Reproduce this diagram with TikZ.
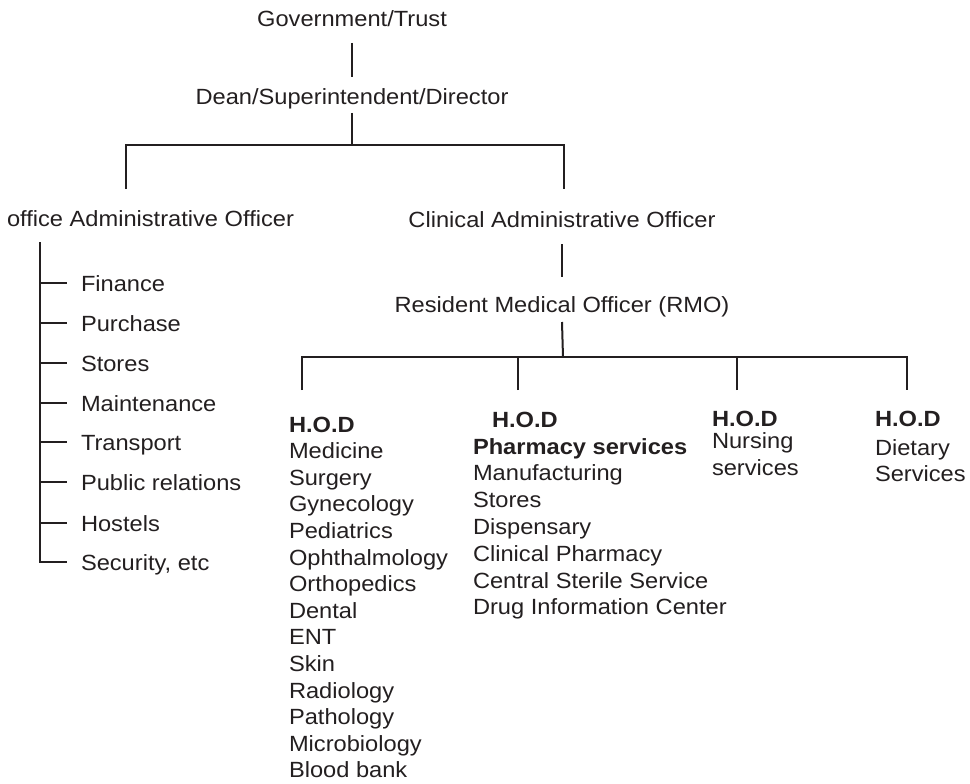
\documentclass[tikz,border=0pt]{standalone}
\usepackage{fontspec}
\setmainfont[FakeStretch=1.075]{Liberation Sans}
\definecolor{ink}{RGB}{35,31,32}
\begin{document}
\begin{tikzpicture}[x=1pt,y=-1pt,
  lab/.style={inner sep=0pt,outer sep=0pt,text=ink,font=\fontsize{22}{26}\selectfont},
  blab/.style={lab,font=\fontsize{22}{26}\selectfont\bfseries},
  ln/.style={draw=ink,line width=2pt,line join=miter}]
\useasboundingbox (0,0) rectangle (970,784);

% top levels
\node[lab,anchor=base] (gov) at (352,27) {Government/Trust};
\node[lab,anchor=base] (dean) at (352,105) {Dean/Superintendent/Director};
\draw[ln] ([yshift=-16pt]gov.base) -- ([yshift=28pt]dean.base);

\coordinate (bar) at (352,145);
\coordinate (offtop) at (126,189);
\coordinate (clitop) at (564,189);
\draw[ln] ([yshift=-8pt]dean.base) -- (bar);
\draw[ln] (offtop) |- (bar) -| (clitop);

\node[lab,anchor=base west] (office) at (7,226) {office Administrative Officer};
\node[lab,anchor=base] (clinical) at (562,227) {Clinical Administrative Officer};
\node[lab,anchor=base] (rmo) at (562,312) {Resident Medical Officer (RMO)};
\draw[ln] ([yshift=-17pt]clinical.base) -- ([yshift=35pt]rmo.base);

% left list
\coordinate (ltop) at (40,242);
\foreach \i/\y/\t in {1/283/Finance,2/323/Purchase,3/363/Stores,4/403/Maintenance,5/442/Transport,6/482/Public relations,7/523/Hostels,8/562/{Security, etc}}{
  \node[lab,anchor=base west] (l\i) at (81,\y+8) {\t};
  \coordinate (tk\i) at (67,\y);
  \draw[ln] (ltop |- tk\i) -- (tk\i);
}
\draw[ln] (ltop) |- (tk8);

% RMO branches
\coordinate (bar2) at (563,357);
\coordinate (t1) at (302,390);
\coordinate (t2) at (518,390);
\coordinate (t3) at (737,390);
\coordinate (t4) at (907,390);
\draw[ln] ([yshift=-10pt]rmo.base) -- (bar2);
\draw[ln] (t1) |- (bar2) -| (t4);
\draw[ln] (t2) -- (t2 |- bar2);
\draw[ln] (t3) -- (t3 |- bar2);

% column 1
\node[blab,anchor=base west] (h1) at (289,432) {H.O.D};
\foreach \t [count=\k] in {Medicine,Surgery,Gynecology,Pediatrics,Ophthalmology,Orthopedics,Dental,ENT,Skin,Radiology,Pathology,Microbiology,Blood bank}{
  \node[lab,anchor=base west] (a\k) at (289,432+26.6*\k) {\t};
}

% column 2
\node[blab,anchor=base west] (h2) at (492,427) {H.O.D};
\node[blab,anchor=base west] (ph) at (473,454) {Pharmacy services};
\foreach \t [count=\k] in {Manufacturing,Stores,Dispensary,Clinical Pharmacy,Central Sterile Service,Drug Information Center}{
  \node[lab,anchor=base west] (b\k) at (473,454+26.8*\k) {\t};
}

% column 3
\node[blab,anchor=base west] (h3) at (712,426) {H.O.D};
\node[lab,anchor=base west] (n1) at (712,448) {Nursing};
\node[lab,anchor=base west] (n2) at (712,475) {services};

% column 4
\node[blab,anchor=base west] (h4) at (875,426) {H.O.D};
\node[lab,anchor=base west] (d1) at (875,455) {Dietary};
\node[lab,anchor=base west] (d2) at (875,481) {Services};
\end{tikzpicture}
\end{document}
